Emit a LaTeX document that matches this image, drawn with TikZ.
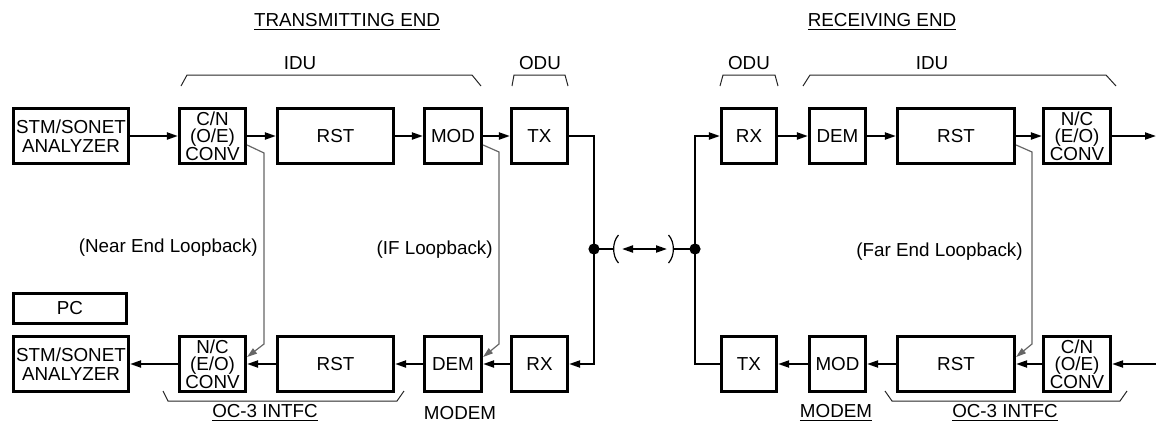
\documentclass[tikz,border=0pt]{standalone}
\usepackage{fontspec}
\setmainfont{Liberation Sans}
\usepackage{tikz}
\usetikzlibrary{
  arrows.meta,
  positioning,
  calc
}

\begin{document}
\begin{tikzpicture}[
  x=0.5pt, y=-0.5pt,
  font=\fontsize{9.4pt}{9.3pt}\selectfont,
  unitbox/.style={draw, line width=1.6pt, inner sep=0pt, align=center, minimum height=27.5pt},
  convbox/.style={unitbox, minimum width=33pt, font=\fontsize{9.4pt}{8.7pt}\selectfont},
  sigline/.style={draw, line width=1pt},
  sigarrow/.style={sigline, -{Triangle[length=5.5pt, width=3.5pt]}},
  loopline/.style={draw=black!60, line width=0.6pt, -{Triangle[length=5pt, width=3.2pt]}},
  brace/.style={draw=black!85, line width=0.5pt}
]
\useasboundingbox (0,0) rectangle (1156,424);

% headers
\node (txhead) at (347,22) {\underline{TRANSMITTING END}};
\node (rxhead) at (882,22) {\underline{RECEIVING END}};
\node (iduL) at (300,63) {IDU};
\node (oduL) at (540,63) {ODU};
\node (oduR) at (749,63) {ODU};
\node (iduR) at (932,63) {IDU};

% top brackets
\draw[brace] (181,86) -- (187,75) -- (472,75) -- (481,86);
\draw[brace] (512,86) -- (514,75) -- (565,75) -- (568,86);
\draw[brace] (720,86) -- (723,75) -- (775,75) -- (778,86);
\draw[brace] (803,86) -- (810,75) -- (1106,75) -- (1116,86);

% --- transmitting end, upper row ---
\node[unitbox, minimum width=57.5pt] (ana1) at (71,136) {STM/SONET\\ANALYZER};
\node[convbox] (cn1) at (212.5,136) {C/N\\(O/E)\\CONV};
\node[unitbox, minimum width=58pt] (rst1) at (335.5,136) {RST};
\node[unitbox, minimum width=28.5pt] (mod1) at (453,136) {MOD};
\node[unitbox, minimum width=28pt] (tx1) at (539.5,136) {TX};

% --- transmitting end, lower row ---
\node[unitbox, minimum width=56.5pt, minimum height=15pt] (pc) at (70,308.5) {PC};
\node[unitbox, minimum width=57.5pt] (ana2) at (71,364) {STM/SONET\\ANALYZER};
\node[convbox] (nc1) at (212.5,364) {N/C\\(E/O)\\CONV};
\node[unitbox, minimum width=58pt] (rst3) at (335.5,364) {RST};
\node[unitbox, minimum width=28.5pt] (dem1) at (453,364) {DEM};
\node[unitbox, minimum width=28pt] (rx1) at (539.5,364) {RX};

% --- receiving end, upper row ---
\node[unitbox, minimum width=27.5pt] (rx2) at (749,136) {RX};
\node[unitbox, minimum width=28pt] (dem2) at (837.5,136) {DEM};
\node[unitbox, minimum width=58.5pt] (rst2) at (956,136) {RST};
\node[convbox, minimum width=33.5pt] (nc2) at (1077,136) {N/C\\(E/O)\\CONV};

% --- receiving end, lower row ---
\node[unitbox, minimum width=27.5pt] (tx2) at (749,364) {TX};
\node[unitbox, minimum width=28pt] (mod2) at (837.5,364) {MOD};
\node[unitbox, minimum width=58.5pt] (rst4) at (956,364) {RST};
\node[convbox, minimum width=33.5pt] (cn2) at (1077,364) {C/N\\(O/E)\\CONV};

% bottom labels and brackets
\draw[brace] (163,391) -- (168,401) -- (397,401) -- (404,391);
\draw[brace] (885,391) -- (892,401) -- (1120,401) -- (1127,391);
\node (ocL) at (265,413) {\underline{OC-3 INTFC}};
\node (modemL) at (460,413) {MODEM};
\node (modemR) at (836,413) {\underline{MODEM}};
\node (ocR) at (1005,413) {\underline{OC-3 INTFC}};

% signal path, transmitting end
\draw[sigarrow] (ana1) -- (cn1);
\draw[sigarrow] (cn1) -- (rst1);
\draw[sigarrow] (rst1) -- (mod1);
\draw[sigarrow] (mod1) -- (tx1);
\draw[sigarrow] (rx1) -- (dem1);
\draw[sigarrow] (dem1) -- (rst3);
\draw[sigarrow] (rst3) -- (nc1);
\draw[sigarrow] (nc1) -- (ana2);

% signal path, receiving end
\coordinate (outR) at (1156,136);
\coordinate (inR) at (1156,364);
\draw[sigarrow] (rx2) -- (dem2);
\draw[sigarrow] (dem2) -- (rst2);
\draw[sigarrow] (rst2) -- (nc2);
\draw[sigarrow] (nc2) -- (outR);
\draw[sigarrow] (inR) -- (cn2);
\draw[sigarrow] (cn2) -- (rst4);
\draw[sigarrow] (rst4) -- (mod2);
\draw[sigarrow] (mod2) -- (tx2);

% radio link
\coordinate (jl) at (594,249);
\coordinate (jr) at (695,249);
\draw[sigline] (tx1.east) -| (jl);
\draw[sigarrow] (jl) |- (rx1.east);
\draw[sigline] (tx2.west) -| (jr);
\draw[sigarrow] (jr) |- (rx2.west);
\fill (jl) circle (2.8pt);
\fill (jr) circle (2.8pt);
\coordinate (parL) at (614,249);
\coordinate (parR) at (673,249);
\draw[sigline] (jl) -- (parL);
\draw[sigline] (parR) -- (jr);
\draw[line width=0.6pt] (618.5,235) .. controls (612,242) and (612,256) .. (618.5,263);
\draw[line width=0.6pt] (668.5,235) .. controls (675,242) and (675,256) .. (668.5,263);
\coordinate (arrL) at (622,249);
\coordinate (arrR) at (667,249);
\draw[sigline, {Triangle[length=5.5pt, width=3.5pt]}-{Triangle[length=5.5pt, width=3.5pt]}] (arrL) -- (arrR);

% loopbacks
\draw[loopline] ([yshift=-4.5pt]cn1.east) -- (264,153) -- (264,344) -- ([yshift=3.5pt]nc1.east);
\draw[loopline] ([yshift=-4.5pt]mod1.east) -- (499,152) -- (499,344) -- ([yshift=3.5pt]dem1.east);
\draw[loopline] ([yshift=-4.5pt]rst2.east) -- (1032,152) -- (1032,344) -- ([yshift=3.5pt]rst4.east);
\node[anchor=east, inner sep=0pt] (nearlb) at (258,248) {(Near End Loopback)};
\node[anchor=east, inner sep=0pt] (iflb) at (493,250) {(IF Loopback)};
\node[anchor=east, inner sep=0pt] (farlb) at (1023,252) {(Far End Loopback)};

\end{tikzpicture}
\end{document}
